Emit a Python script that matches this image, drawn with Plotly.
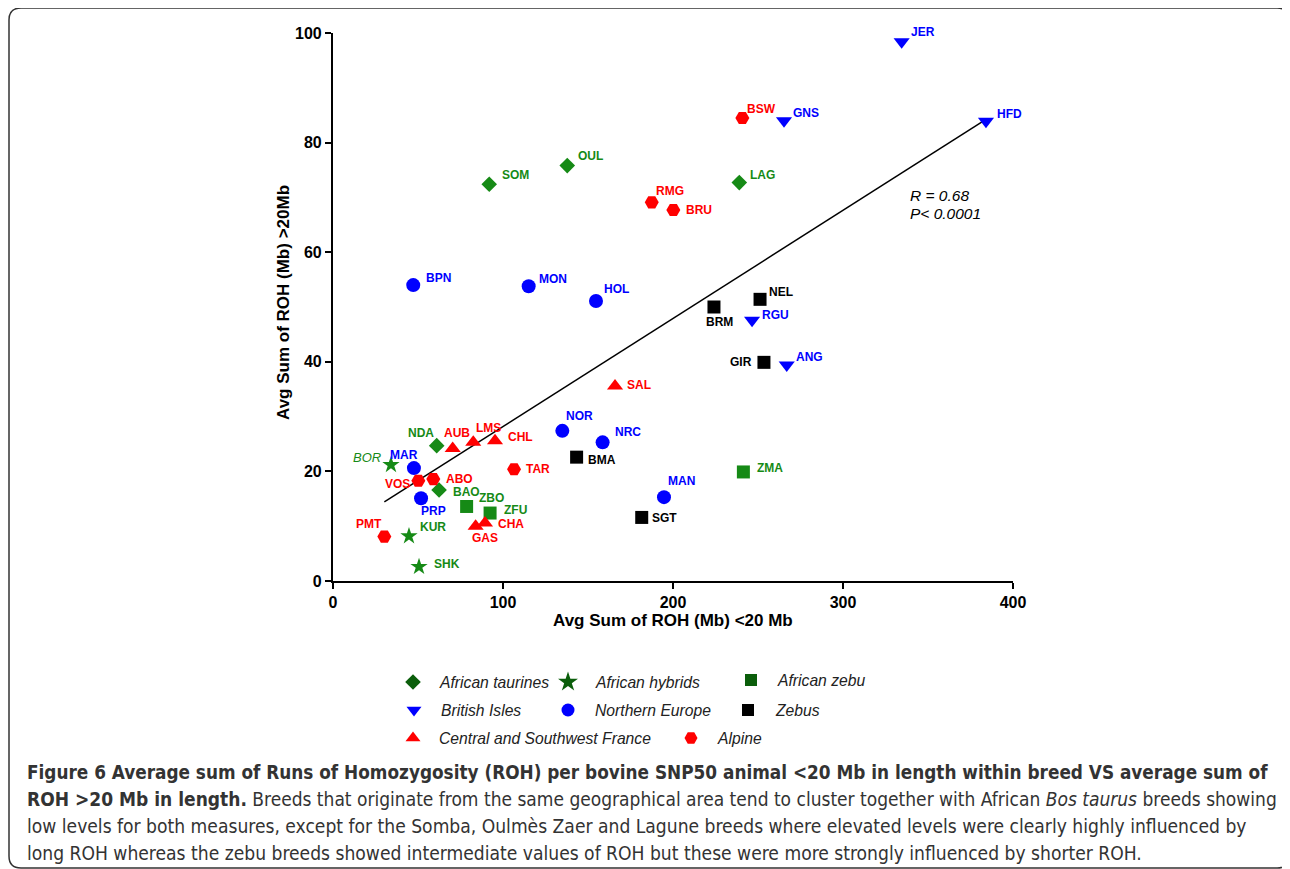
import numpy as np
import plotly.graph_objects as go

# ---------------- data ----------------
groups = ["African taurines", "African hybrids", "African zebu", "British Isles",
          "Northern Europe", "Zebus", "Central and Southwest France", "Alpine"]

taur_names = ["SOM", "OUL", "LAG", "NDA", "BAO"]
taur_x = [91.9, 137.8, 239.0, 61.0, 62.4]
taur_y = [72.4, 75.8, 72.7, 24.7, 16.6]

hyb_names = ["BOR", "KUR", "SHK"]
hyb_x = [34.1, 44.7, 50.6]
hyb_y = [21.2, 8.2, 2.6]

azeb_names = ["ZMA", "ZBO", "ZFU"]
azeb_x = [241.4, 78.6, 92.4]
azeb_y = [19.9, 13.6, 12.4]

brit_names = ["JER", "HFD", "GNS", "RGU", "ANG"]
brit_x = [334.5, 384.1, 265.3, 246.5, 266.9]
brit_y = [98.4, 83.9, 84.0, 47.6, 39.4]

neur_names = ["BPN", "MON", "HOL", "NOR", "NRC", "MAR", "PRP", "MAN"]
neur_x = [47.2, 115.1, 154.7, 134.9, 158.6, 47.6, 51.8, 194.7]
neur_y = [54.0, 53.8, 51.1, 27.4, 25.3, 20.6, 15.1, 15.3]

zeb_names = ["BRM", "NEL", "GIR", "BMA", "SGT"]
zeb_x = [224.1, 251.2, 253.5, 143.3, 181.6]
zeb_y = [50.0, 51.4, 39.9, 22.6, 11.6]

fra_names = ["SAL", "AUB", "LMS", "CHL", "CHA", "GAS"]
fra_x = [165.9, 70.4, 82.5, 95.3, 89.4, 83.9]
fra_y = [35.6, 24.2, 25.3, 25.6, 10.6, 10.0]

alp_names = ["BSW", "RMG", "BRU", "TAR", "VOS", "ABO", "PMT"]
alp_x = [240.8, 187.5, 200.2, 106.5, 50.2, 59.0, 30.2]
alp_y = [84.5, 69.1, 67.7, 20.4, 18.3, 18.6, 8.1]

x_ticks = [0, 100, 200, 300, 400]
y_ticks = [0, 20, 40, 60, 80, 100]
stat_text = ["R = 0.68", "P< 0.0001"]

# ---------------- styles ----------------
GREEN = "#168a16"
GREEN_LEG = "#0b5e0b"
BLUE = "#0000ff"
RED = "#ff0000"
BLACK = "#000000"

series = [
    (taur_names, taur_x, taur_y, "diamond", 12, GREEN, GREEN_LEG),
    (hyb_names, hyb_x, hyb_y, "star", 13, GREEN, GREEN_LEG),
    (azeb_names, azeb_x, azeb_y, "square", 13, GREEN, GREEN_LEG),
    (brit_names, brit_x, brit_y, "triangle-down", 14, BLUE, BLUE),
    (neur_names, neur_x, neur_y, "circle", 14, BLUE, BLUE),
    (zeb_names, zeb_x, zeb_y, "square", 13, BLACK, BLACK),
    (fra_names, fra_x, fra_y, "triangle-up", 14, RED, RED),
    (alp_names, alp_x, alp_y, "hexagon2", 14, RED, RED),
]

# label placement: (anchor, dx px, dy px down)
label_pos = {
    "JER": ("left", 7, -10), "HFD": ("left", 9, -7), "GNS": ("left", 7, -8),
    "BSW": ("left", 3, -9), "OUL": ("left", 9, -10), "SOM": ("left", 11, -9),
    "LAG": ("left", 9, -8), "RMG": ("left", 2, -11), "BRU": ("left", 11, 0),
    "BPN": ("left", 11, -7), "MON": ("left", 8, -7), "HOL": ("left", 6, -12),
    "NEL": ("left", 7, -7), "BRM": ("center", 6, 15), "RGU": ("left", 8, -5),
    "GIR": ("right", -10, 0), "ANG": ("left", 7, -8), "SAL": ("left", 10, -1),
    "NOR": ("left", 2, -15), "NRC": ("left", 10, -10), "BMA": ("left", 9, 3),
    "TAR": ("left", 10, 0), "NDA": ("right", -1, -13), "AUB": ("center", 4, -15),
    "LMS": ("left", 1, -14), "CHL": ("left", 11, -4), "BOR": ("right", -8, -7),
    "MAR": ("center", -10, -13), "VOS": ("right", -6, 3), "ABO": ("left", 11, 0),
    "BAO": ("left", 12, 2), "PRP": ("center", 12, 13), "ZBO": ("left", 10, -8),
    "ZFU": ("left", 12, -3), "CHA": ("left", 11, 1), "GAS": ("center", 9, 12),
    "PMT": ("right", 0, -13), "KUR": ("left", 9, -9), "SHK": ("left", 13, -3),
    "ZMA": ("left", 12, -4), "MAN": ("left", 2, -16), "SGT": ("left", 8, 1),
}

# page offset (browser body margin) compensation
OFF = 8
W, H = 1290 - OFF, 869 - OFF
PX_L, PX_R, PX_T, PX_B = 333 - OFF, 1013 - OFF, 33 - OFF, 581 - OFF
FONT = "Liberation Sans, Arial, Helvetica, sans-serif"


def px(v):
    return v - OFF


fig = go.Figure()

# regression line from data
all_x = np.array(taur_x + hyb_x + azeb_x + brit_x + neur_x + zeb_x + fra_x + alp_x)
all_y = np.array(taur_y + hyb_y + azeb_y + brit_y + neur_y + zeb_y + fra_y + alp_y)
slope, icpt = np.polyfit(all_x, all_y, 1)
lx = np.array([all_x.min(), all_x.max()])
fig.add_trace(go.Scatter(x=lx, y=slope * lx + icpt, mode="lines",
                         line=dict(color="black", width=1.5), hoverinfo="skip",
                         showlegend=False, cliponaxis=False))

annotations = []
for names, xs, ys, sym, size, col, _ in series:
    fig.add_trace(go.Scatter(x=xs, y=ys, mode="markers", text=names,
                             marker=dict(symbol=sym, size=size, color=col, line=dict(width=0)),
                             showlegend=False, cliponaxis=False))
    for n, xv, yv in zip(names, xs, ys):
        anc, dx, dy = label_pos[n]
        txt = "<i>%s</i>" % n if n == "BOR" else "<b>%s</b>" % n
        annotations.append(dict(x=xv, y=yv, xref="x", yref="y", text=txt, showarrow=False,
                                xanchor=anc, yanchor="middle", xshift=dx, yshift=-dy,
                                font=dict(family=FONT, size=12 if n != "BOR" else 13, color=col)))

# ------------- legend drawn on an overlay pixel axis -------------
leg_cells = [  # (marker x, marker y, text x) in page pixels
    (413, 682, 437), (568, 682, 593), (751, 680, 775),
    (414, 710, 439), (568, 710, 593), (748, 710, 773),
    (413, 738, 437), (691, 738, 715),
]
leg_sizes = {"diamond": 12, "star": 15, "square": 12, "triangle-down": 13,
             "circle": 13, "triangle-up": 13, "hexagon2": 13}
for (mx, my, tx), g, s in zip(leg_cells, groups, series):
    sym, col_leg = s[3], s[6]
    fig.add_trace(go.Scatter(x=[px(mx)], y=[px(my)], xaxis="x2", yaxis="y2", mode="markers",
                             marker=dict(symbol=sym, size=leg_sizes[sym], color=col_leg),
                             showlegend=False, hoverinfo="skip", cliponaxis=False))
    annotations.append(dict(x=px(tx), y=px(my), xref="x2", yref="y2", text="<i>%s</i>" % g,
                            showarrow=False, xanchor="left", yanchor="middle",
                            font=dict(family=FONT, size=15.7, color="#222222")))

# axis titles
annotations.append(dict(x=px(673), y=px(620), xref="x2", yref="y2", showarrow=False,
                        text="<b>Avg Sum of ROH (Mb) &lt;20 Mb</b>", xanchor="center", yanchor="middle",
                        font=dict(family=FONT, size=17, color="black")))
annotations.append(dict(x=px(283), y=px(303), xref="x2", yref="y2", showarrow=False, textangle=-90,
                        text="<b>Avg Sum of ROH (Mb) &gt;20Mb</b>", xanchor="center", yanchor="middle",
                        font=dict(family=FONT, size=17, color="black")))
# statistics
for i, t in enumerate(stat_text):
    annotations.append(dict(x=px(908), y=px(195 + 18 * i), xref="x2", yref="y2", showarrow=False,
                            text="<i>%s</i>" % t, xanchor="left", yanchor="middle",
                            font=dict(family=FONT, size=15.5, color="black")))

# caption
CAP_FONT = "Liberation Sans Narrow, DejaVu Sans Condensed, Open Sans, sans-serif"
cap_lines = [
    ("<b>Figure 6 Average sum of Runs of Homozygosity (ROH) per bovine SNP50 animal &lt;20 Mb in length within breed VS average sum of</b>", 18.8),
    ("<b>ROH &gt;20 Mb in length.</b> Breeds that originate from the same geographical area tend to cluster together with African <i>Bos taurus</i> breeds showing", 19),
    ("low levels for both measures, except for the Somba, Oulmès Zaer and Lagune breeds where elevated levels were clearly highly influenced by", 19.1),
    ("long ROH whereas the zebu breeds showed intermediate values of ROH but these were more strongly influenced by shorter ROH.", 19.1),
]
for i, (t, fs) in enumerate(cap_lines):
    annotations.append(dict(x=px(25), y=px(772 + 27 * i), xref="x2", yref="y2", showarrow=False,
                            text=t, xanchor="left", yanchor="middle",
                            font=dict(family=CAP_FONT, size=fs, color="#333333")))

# frame (page pixels -> figure pixels)
fx0, fx1, fy0, fy1, rr = px(9), px(1289), px(8), px(868), 12
frame = ("M {a},{b} Q {a},{c} {d},{c} L {e},{c} Q {f},{c} {f},{b} L {f},{g} "
         "Q {f},{h} {e},{h} L {d},{h} Q {a},{h} {a},{g} Z").format(
    a=fx0, b=fy0 + rr, c=fy0, d=fx0 + rr, e=fx1 - rr, f=fx1, g=fy1 - rr, h=fy1)

axis_common = dict(showline=True, linewidth=2.2, linecolor="black", ticks="outside",
                   ticklen=6, tickwidth=2.2, tickcolor="black", showgrid=False,
                   zeroline=False, automargin=False,
                   tickfont=dict(family=FONT, size=16, color="black", weight="bold"))

fig.update_layout(
    width=W, height=H, margin=dict(l=0, r=0, t=0, b=0),
    paper_bgcolor="white", plot_bgcolor="rgba(0,0,0,0)",
    xaxis=dict(domain=[PX_L / W, PX_R / W], range=[0, 400], tickvals=x_ticks, **axis_common),
    yaxis=dict(domain=[(H - PX_B) / H, (H - PX_T) / H], range=[0, 100], tickvals=y_ticks, **axis_common),
    xaxis2=dict(domain=[0, 1], range=[0, W], visible=False, anchor="y2", fixedrange=True),
    yaxis2=dict(domain=[0, 1], range=[H, 0], visible=False, anchor="x2", fixedrange=True),
    annotations=annotations,
    shapes=[dict(type="path", path=frame, xref="x2", yref="y2",
                 line=dict(color="#333333", width=1.5))],
    showlegend=False,
)

fig.write_html("out.html")
